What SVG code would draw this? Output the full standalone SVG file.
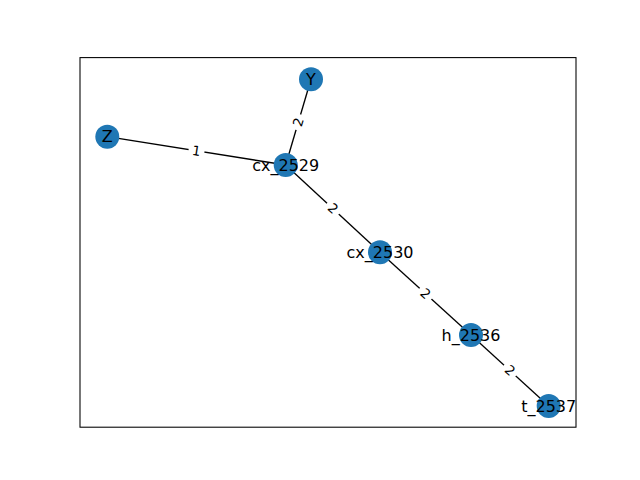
<svg xmlns="http://www.w3.org/2000/svg" width="640" height="480" viewBox="0 0 640 480">
<style>
.edge{stroke:#000;stroke-width:1.33;fill:none}
.node circle{fill:#1f77b4}
.node text{font-family:"DejaVu Sans",sans-serif;font-size:16px;fill:#000;text-anchor:middle;dominant-baseline:central}
.el rect{fill:#fff}
.el text{font-family:"DejaVu Sans",sans-serif;font-size:13.33px;fill:#000;text-anchor:middle;dominant-baseline:central}
</style>
<rect x="0" y="0" width="640" height="480" fill="#fff"/>
<rect x="80" y="57.6" width="496" height="369.6" fill="none" stroke="#000" stroke-width="1.07"/>
<g id="connectors">
<line class="edge" x1="107.3" y1="136.7" x2="285.7" y2="165"/>
<line class="edge" x1="311" y1="79.3" x2="285.7" y2="165"/>
<line class="edge" x1="285.7" y1="165" x2="380" y2="252.3"/>
<line class="edge" x1="380" y1="252.3" x2="471" y2="335"/>
<line class="edge" x1="471" y1="335" x2="548.7" y2="406"/>
<g class="el" transform="translate(196.5,150.9) rotate(9)"><rect x="-8" y="-9" width="16" height="18" rx="3"/><text x="0" y="0">1</text></g>
<g class="el" transform="translate(298.4,122.2) rotate(-73.4)"><rect x="-8" y="-9" width="16" height="18" rx="3"/><text x="0" y="0">2</text></g>
<g class="el" transform="translate(332.9,208.7) rotate(42.8)"><rect x="-8" y="-9" width="16" height="18" rx="3"/><text x="0" y="0">2</text></g>
<g class="el" transform="translate(425.5,293.7) rotate(42.3)"><rect x="-8" y="-9" width="16" height="18" rx="3"/><text x="0" y="0">2</text></g>
<g class="el" transform="translate(509.9,370.5) rotate(42.4)"><rect x="-8" y="-9" width="16" height="18" rx="3"/><text x="0" y="0">2</text></g>
</g>
<g id="Y" class="node"><circle cx="311" cy="79.3" r="12"/><text x="311" y="79.3">Y</text></g>
<g id="Z" class="node"><circle cx="107.3" cy="136.7" r="12"/><text x="107.3" y="136.7">Z</text></g>
<g id="cx_2529" class="node"><circle cx="285.7" cy="165" r="12"/><text x="285.7" y="165">cx_2529</text></g>
<g id="cx_2530" class="node"><circle cx="380" cy="252.3" r="12"/><text x="380" y="252.3">cx_2530</text></g>
<g id="h_2536" class="node"><circle cx="471" cy="335" r="12"/><text x="471" y="335">h_2536</text></g>
<g id="t_2537" class="node"><circle cx="548.7" cy="406" r="12"/><text x="548.7" y="406">t_2537</text></g>
</svg>
